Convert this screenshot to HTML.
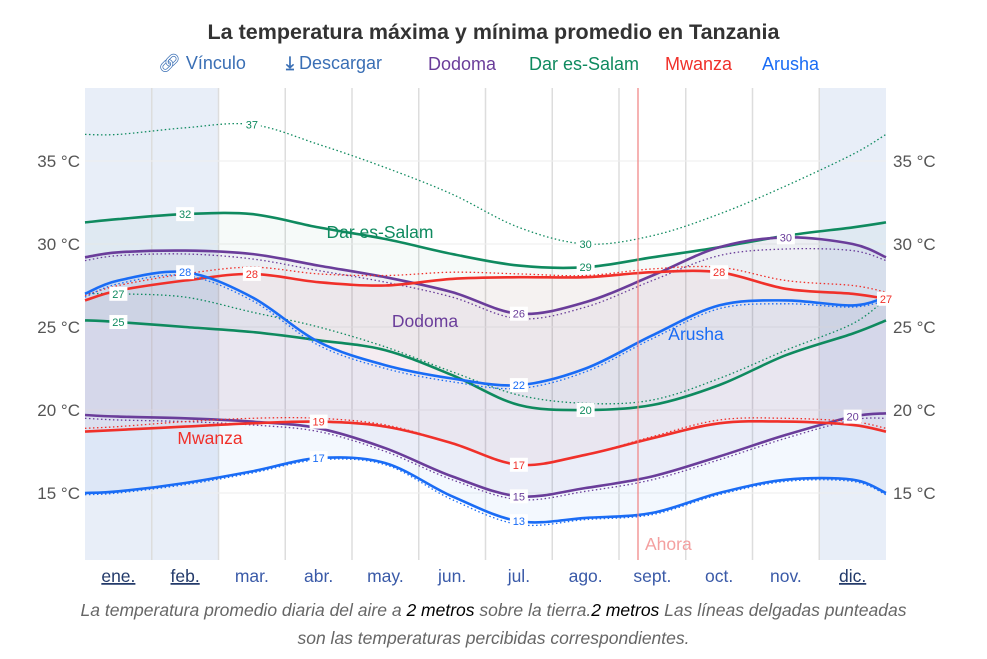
<!DOCTYPE html>
<html><head><meta charset="utf-8">
<style>
body{margin:0;background:#fff;font-family:"Liberation Sans",sans-serif;}
#wrap{position:relative;width:987px;height:659px;overflow:hidden;}
.t{position:absolute;white-space:nowrap;}
</style></head>
<body>
<div id="wrap">
<div class="t" style="left:0;width:987px;text-align:center;top:20px;font-size:21.5px;font-weight:bold;color:#333;">La temperatura máxima y mínima promedio en Tanzania</div>
<div class="t" style="left:158px;top:53px;font-size:18px;color:#3a6fb5;">🔗︎ Vínculo</div>
<div class="t" style="left:286px;top:53px;font-size:18px;color:#3a6fb5;"><span style="font-weight:bold">⤓</span> Descargar</div>
<div class="t" style="left:428px;top:54px;font-size:18px;color:#6a3d9a;">Dodoma</div>
<div class="t" style="left:529px;top:54px;font-size:18px;color:#0f8a5f;">Dar es-Salam</div>
<div class="t" style="left:665px;top:54px;font-size:18px;color:#f0302a;">Mwanza</div>
<div class="t" style="left:762px;top:54px;font-size:18px;color:#1a6cf5;">Arusha</div>
<svg id="chart" width="987" height="659" style="position:absolute;left:0;top:0"></svg>
<div class="t" style="left:0;width:987px;text-align:center;top:596px;font-size:17.5px;line-height:28px;font-style:italic;color:#666;">La temperatura promedio diaria del aire a <span style="color:#000">2 metros</span> sobre la tierra.<span style="color:#000">2 metros</span> Las líneas delgadas punteadas<br>son las temperaturas percibidas correspondientes.</div>
</div>
<script>
const months=["ene.","feb.","mar.","abr.","may.","jun.","jul.","ago.","sept.","oct.","nov.","dic."];
const yTicks=[15,20,25,30,35];
const pos=[0,0.5,1.5,2.5,3.5,4.5,5.5,6.5,7.5,8.5,9.5,10.5,11.5,12];
const darHigh=[31.3,31.5,31.8,31.8,31.0,30.3,29.4,28.7,28.6,29.2,29.8,30.5,31.0,31.3];
const darLow=[25.4,25.3,25.0,24.7,24.2,23.6,22.1,20.3,20.0,20.3,21.5,23.3,24.6,25.4];
const darFeelHigh=[36.6,36.6,37.0,37.2,36.0,34.6,33.0,31.0,30.0,30.5,31.8,33.5,35.4,36.6];
const darFeelLow=[27.0,27.0,26.8,25.9,25.0,23.8,22.3,20.9,20.4,20.6,21.9,23.6,25.2,26.7];
const dodHigh=[29.2,29.5,29.6,29.4,28.7,28.0,27.1,25.8,26.5,28.1,29.8,30.4,30.0,29.2];
const dodLow=[19.7,19.6,19.5,19.3,18.9,17.7,16.0,14.8,15.3,16.0,17.2,18.5,19.6,19.8];
const dodFeelHigh=[29.0,29.3,29.4,29.1,28.4,27.7,26.8,25.5,26.2,27.8,29.3,29.7,29.6,29.0];
const dodFeelLow=[19.5,19.4,19.3,19.1,18.7,17.5,15.8,14.6,15.1,15.8,17.0,18.3,19.4,19.5];
const mwaHigh=[26.6,27.2,27.8,28.2,27.7,27.5,27.9,28.0,28.0,28.3,28.3,27.3,27.0,26.7];
const mwaLow=[18.7,18.8,19.0,19.2,19.3,19.0,18.0,16.7,17.3,18.3,19.2,19.3,19.1,18.7];
const mwaFeelHigh=[26.9,27.5,28.2,28.6,28.2,28.1,28.3,28.2,28.1,28.5,28.6,27.8,27.5,27.1];
const mwaFeelLow=[18.9,19.0,19.3,19.5,19.5,19.1,18.0,16.7,17.3,18.4,19.4,19.5,19.3,18.9];
const aruHigh=[27.0,27.8,28.3,26.8,24.1,22.7,21.9,21.5,22.5,24.5,26.3,26.6,26.3,26.8];
const aruLow=[15.0,15.1,15.6,16.3,17.1,16.8,14.8,13.3,13.5,13.8,15.0,15.8,15.8,15.0];
const aruFeelHigh=[26.8,27.6,28.1,26.6,23.9,22.5,21.7,21.3,22.3,24.3,26.1,26.4,26.2,26.6];
const aruFeelLow=[14.9,15.0,15.5,16.2,17.0,16.7,14.6,13.1,13.4,13.7,14.9,15.7,15.7,14.9];

const X0=85,X1=886,Y0=88,Y1=560;
const xs=m=>X0+(X1-X0)*m/12;
const ys=v=>161+(35-v)*16.6;
const svg=document.getElementById('chart');
const NS='http://www.w3.org/2000/svg';
function mk(tag,at,parent){const e=document.createElementNS(NS,tag);for(const k in at)e.setAttribute(k,at[k]);(parent||svg).appendChild(e);return e;}
function curve(vals,rev){let p=pos.map((m,i)=>[xs(m),ys(vals[i])]);if(rev)p=p.slice().reverse();
 let d='';for(let i=0;i<p.length-1;i++){const a=p[Math.max(i-1,0)],b=p[i],c=p[i+1],e=p[Math.min(i+2,p.length-1)];
  const c1=[b[0]+(c[0]-a[0])/6,b[1]+(c[1]-a[1])/6],c2=[c[0]-(e[0]-b[0])/6,c[1]-(e[1]-b[1])/6];
  d+=(i?'':'M'+b[0].toFixed(1)+','+b[1].toFixed(1))+'C'+c1[0].toFixed(1)+','+c1[1].toFixed(1)+' '+c2[0].toFixed(1)+','+c2[1].toFixed(1)+' '+c[0].toFixed(1)+','+c[1].toFixed(1);}
 return d;}
let r=mk('rect',{x:X0,y:Y0,width:xs(2)-X0,height:Y1-Y0,fill:'#e8eef8'});

r=mk('rect',{x:xs(11),y:Y0,width:X1-xs(11),height:Y1-Y0,fill:'#e8eef8'});

for(let i=1;i<12;i++){const l=mk('line',{x1:xs(i),x2:xs(i),y1:Y0,y2:Y1,stroke:'#ddd','stroke-width':1.5});
 }
yTicks.forEach(v=>{const l=mk('line',{x1:X0,x2:X1,y1:ys(v),y2:ys(v),stroke:'#eee'});
 
 let t=mk('text',{x:80,y:ys(v)+6,'text-anchor':'end','font-size':17,fill:'#555'});t.textContent=v+' °C';
 
 t=mk('text',{x:893,y:ys(v)+6,'font-size':17,fill:'#555'});t.textContent=v+' °C';
 });
months.forEach((m,i)=>{const t=mk('text',{x:xs(i+0.5),y:582,'text-anchor':'middle','font-size':17.5,fill:(i<2||i==11)?'#233a6a':'#3a5aa8','text-decoration':(i<2||i==11)?'underline':'none'});
 t.textContent=m;});
const cities=[
 ['dar',darHigh,darLow,darFeelHigh,darFeelLow,'#0f8a5f','rgba(15,138,95,0.04)'],
 ['dodoma',dodHigh,dodLow,dodFeelHigh,dodFeelLow,'#6a3d9a','rgba(106,61,154,0.06)'],
 ['mwanza',mwaHigh,mwaLow,mwaFeelHigh,mwaFeelLow,'#f0302a','rgba(240,48,42,0.04)'],
 ['arusha',aruHigh,aruLow,aruFeelHigh,aruFeelLow,'#1a6cf5','rgba(26,108,245,0.05)']];
cities.forEach(c=>{let e=mk('path',{d:curve(c[1])+'L'+curve(c[2],true).slice(1)+'Z',fill:c[6],stroke:'none'});
 });
cities.forEach(c=>{[[3,'high-feels'],[4,'low-feels']].forEach(([k,n])=>{
 const e=mk('path',{d:curve(c[k]),fill:'none',stroke:c[5],'stroke-width':1.3,'stroke-dasharray':'1.5,2.5'});
 });
 [[1,'high'],[2,'low']].forEach(([k,n])=>{
 const e=mk('path',{d:curve(c[k]),fill:'none',stroke:c[5],'stroke-width':2.6});
 });});
function lab(arr,i,col,name){const x=xs(pos[i]),y=ys(arr[i]),v=Math.round(arr[i]);
 const b=mk('rect',{x:x-9,y:y-7,width:18,height:14,fill:'#fff'});
 const t=mk('text',{x:x,y:y+4,'text-anchor':'middle','font-size':11,fill:col});t.textContent=v;
 }
lab(darHigh,2,'#0f8a5f','dar-high-max');lab(darHigh,8,'#0f8a5f','dar-high-min');
lab(darLow,1,'#0f8a5f','dar-low-max');lab(darLow,8,'#0f8a5f','dar-low-min');
lab(darFeelHigh,3,'#0f8a5f','dar-feels-high-max');lab(darFeelHigh,8,'#0f8a5f','dar-feels-high-min');
lab(darFeelLow,1,'#0f8a5f','dar-feels-low-max');
lab(dodHigh,7,'#6a3d9a','dod-high-min');lab(dodHigh,11,'#6a3d9a','dod-high-max');
lab(dodLow,7,'#6a3d9a','dod-low-min');lab(dodLow,12,'#6a3d9a','dod-low-max');
lab(mwaHigh,3,'#f0302a','mwa-high-max');lab(mwaHigh,10,'#f0302a','mwa-high-peak');lab(mwaHigh,13,'#f0302a','mwa-high-end');
lab(mwaLow,4,'#f0302a','mwa-low-max');lab(mwaLow,7,'#f0302a','mwa-low-min');
lab(aruHigh,2,'#1a6cf5','aru-high-max');lab(aruHigh,7,'#1a6cf5','aru-high-min');
lab(aruLow,4,'#1a6cf5','aru-low-max');lab(aruLow,7,'#1a6cf5','aru-low-min');
[['Dar es-Salam',380,238,'#0f8a5f'],['Dodoma',425,327,'#6a3d9a'],['Arusha',696,340,'#1a6cf5'],['Mwanza',210,444,'#f0302a']].forEach(a=>{
 const t=mk('text',{x:a[1],y:a[2],'text-anchor':'middle','font-size':17.5,fill:a[3]});t.textContent=a[0];
 });
let l=mk('line',{x1:638,x2:638,y1:Y0,y2:Y1,stroke:'#f08080','stroke-width':1.2});

let t=mk('text',{x:645,y:550,'font-size':17.5,fill:'#f4a0a0'});t.textContent='Ahora';

</script>
</body></html>
